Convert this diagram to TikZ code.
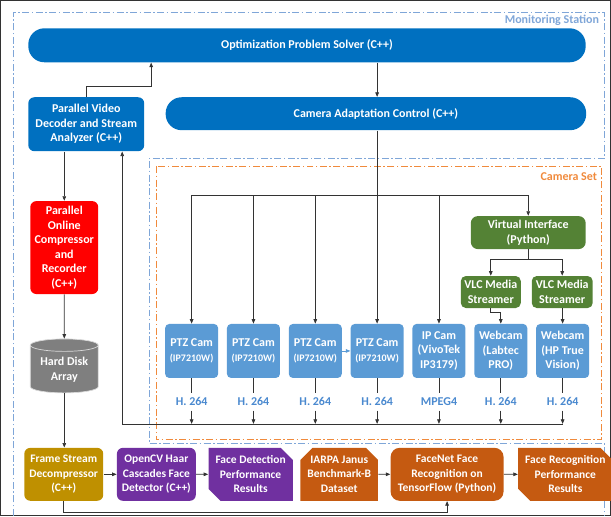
\documentclass[tikz,border=0pt]{standalone}
\usepackage{fontspec}
\setmainfont{Carlito}
\usepackage{xcolor}
\usetikzlibrary{arrows.meta,positioning,shapes.geometric,shapes.misc}

\definecolor{solverblue}{HTML}{0070C0}
\definecolor{camblue}{HTML}{5B9BD5}
\definecolor{codecblue}{HTML}{4A89CF}
\definecolor{recred}{HTML}{FF0000}
\definecolor{diskgray}{HTML}{7F7F7F}
\definecolor{decgold}{HTML}{BF9000}
\definecolor{detpurple}{HTML}{7030A0}
\definecolor{recorange}{HTML}{C55A11}
\definecolor{virtgreen}{HTML}{548235}
\definecolor{stationblue}{HTML}{7FA6D8}
\definecolor{setorange}{HTML}{F08A3C}

\begin{document}
\begin{tikzpicture}[
    x=1pt, y=-1pt,
    >={Triangle[length=4.5pt,width=3.6pt]},
    font=\fontsize{12}{14.5}\selectfont\bfseries,
    block/.style={rounded corners=6pt, text=white, align=center, inner sep=2pt},
    pill/.style={block, fill=solverblue, rounded corners=16pt, minimum height=34pt},
    cam/.style={block, fill=camblue, rounded corners=4pt, minimum width=53pt, minimum height=54pt, inner sep=1pt},
    virt/.style={block, fill=virtgreen, rounded corners=7pt},
    stage/.style={block, minimum width=79pt, minimum height=53pt, inner sep=1pt,
        font=\fontsize{11.5}{14.5}\selectfont\bfseries},
    result/.style={chamfered rectangle, chamfered rectangle xsep=6pt, chamfered rectangle ysep=6pt,
        text=white, align=center, inner sep=1pt, minimum height=53pt,
        font=\fontsize{11.5}{14.5}\selectfont\bfseries},
    disk/.style={cylinder, shape border rotate=90, aspect=0.25, fill=diskgray, draw=white!70!diskgray,
        text=white, align=center, minimum width=68pt, minimum height=54pt, inner sep=1pt},
    codec/.style={text=codecblue, inner xsep=1pt, inner ysep=5pt, text height=7.5pt, text depth=0pt},
    stationline/.style={draw=stationblue, line width=1.1pt, dash pattern=on 7pt off 2.5pt on 1.5pt off 2.5pt},
    setline/.style={draw=setorange, line width=1.1pt, dash pattern=on 7pt off 2.5pt on 1.5pt off 2.5pt},
    every path/.style={line width=0.7pt, draw=black!80},
]
\useasboundingbox (0,0) rectangle (611,516);

% Monitoring station outline
\draw[stationline] (13,516) -- (13,12) -- (605,12) -- (605,158) -- (149,158) -- (149,444) -- (605,444) -- (605,516);
\node[anchor=east, text=stationblue] (stationlabel) at (603,20) {Monitoring Station};

% Camera set outline
\draw[setline] (156,166) rectangle (602,440);
\node[anchor=east, text=setorange] (setlabel) at (601,176) {Camera Set};

% Solver and control
\node[pill, minimum width=558pt] (solver) at (307,45) {Optimization Problem Solver (C++)};
\node[pill, minimum width=421pt, minimum height=33pt] (cac) at (376,113.5) {Camera Adaptation Control (C++)};
\node[block, fill=solverblue, minimum width=116pt, minimum height=54pt] (decoder) at (86,124) {Parallel Video\\Decoder and Stream\\Analyzer (C++)};

% Recording chain
\node[block, fill=recred, minimum width=68pt, minimum height=93pt] (recorder) at (64,247.5) {Parallel\\Online\\Compressor\\and\\Recorder\\(C++)};
\node[disk] (disk) at (64,370) {Hard Disk\\Array};

% Bottom row
\node[stage, fill=decgold] (framedec) at (63.5,474.5) {Frame Stream\\Decompressor\\(C++)};
\node[stage, fill=detpurple, right=13pt of framedec] (haar) {OpenCV Haar\\Cascades Face\\Detector (C++)};
\node[result, fill=detpurple, chamfered rectangle corners={north east,south west}, minimum width=80pt, right=12pt of haar] (detres) {Face Detection\\Performance\\Results};
\node[result, fill=recorange, chamfered rectangle corners={north west,north east}, minimum width=74pt, right=7pt of detres] (janus) {IARPA Janus\\Benchmark-B\\Dataset};
\node[stage, fill=recorange, rounded corners=9pt, minimum width=113pt, right=12pt of janus] (facenet) {FaceNet Face\\Recognition on\\TensorFlow (Python)};
\node[result, fill=recorange, chamfered rectangle corners={north east,south west}, minimum width=89pt, right=14pt of facenet] (recres) {Face Recognition\\Performance\\Results};

% Cameras
\node[cam] (ptz1) at (191.5,351) {PTZ Cam\\{\fontsize{10}{12}\selectfont (IP7210W)}};
\node[cam, right=8.2pt of ptz1] (ptz2) {PTZ Cam\\{\fontsize{10}{12}\selectfont (IP7210W)}};
\node[cam, right=8.2pt of ptz2] (ptz3) {PTZ Cam\\{\fontsize{10}{12}\selectfont (IP7210W)}};
\node[cam, right=8.2pt of ptz3] (ptz4) {PTZ Cam\\{\fontsize{10}{12}\selectfont (IP7210W)}};
\node[cam, right=8.2pt of ptz4] (ipcam) {IP Cam\\(VivoTek\\IP3179)};
\node[cam, right=8.2pt of ipcam] (web1) {Webcam\\(Labtec\\PRO)};
\node[cam, right=8.2pt of web1] (web2) {Webcam\\(HP True\\Vision)};

% Stream formats
\node[codec, below=14.25pt of ptz1] (fmt1) {H. 264};
\node[codec, below=14.25pt of ptz2] (fmt2) {H. 264};
\node[codec, below=14.25pt of ptz3] (fmt3) {H. 264};
\node[codec, below=14.25pt of ptz4] (fmt4) {H. 264};
\node[codec, below=14.25pt of ipcam] (fmt5) {MPEG4};
\node[codec, below=14.25pt of web1] (fmt6) {H. 264};
\node[codec, below=14.25pt of web2] (fmt7) {H. 264};

% Virtual interface
\node[virt, minimum width=115pt, minimum height=33pt] (vif) at (528.5,232.5) {Virtual Interface\\(Python)};
\node[virt, rounded corners=5pt, minimum width=60pt, minimum height=32pt, inner sep=1pt] (vlc1) at (491,292) {VLC Media\\Streamer};
\node[virt, rounded corners=5pt, minimum width=61pt, minimum height=32pt, inner sep=1pt] (vlc2) at (562.5,292) {VLC Media\\Streamer};

% Bus points
\coordinate (busT) at (375,195);
\coordinate (busB) at (122,424);

% Edges: control side
\draw[->] (decoder.north) -- ++(0,-11) -| ([xshift=-156pt]solver.south);
\draw[->] (solver.south -| ptz4) -- (cac.north -| ptz4);
\draw[->] (cac.south -| ptz4) -- (ptz4);
\draw (ptz1 |- busT) -- (vif |- busT);
\draw[->] (ptz1 |- busT) -- (ptz1);
\draw[->] (ptz2 |- busT) -- (ptz2);
\draw[->] (ptz3 |- busT) -- (ptz3);
\draw[->] (ipcam |- busT) -- (ipcam);
\draw[->] (vif |- busT) -- (vif);
\draw[->] (vif.south) -- ++(0,10) -| (vlc1);
\draw[->] (vif.south) ++(0,10) -| (vlc2);
\draw[->] (vlc1.south) -- ++(0,4) -| (web1);
\draw[->] (vlc2.south) -- ++(0,4) -| (web2);
\draw[->, draw=camblue, line width=0.5pt] (ptz3) -- (ptz4);

% Edges: streams back to the station
\draw (ptz1) -- (fmt1);
\draw (ptz2) -- (fmt2);
\draw (ptz3) -- (fmt3);
\draw (ptz4) -- (fmt4);
\draw (ipcam) -- (fmt5);
\draw (web1) -- (fmt6);
\draw (web2) -- (fmt7);
\draw[->] (fmt1) -- (fmt1 |- busB);
\draw[->] (fmt2) -- (fmt2 |- busB);
\draw[->] (fmt3) -- (fmt3 |- busB);
\draw[->] (fmt4) -- (fmt4 |- busB);
\draw[->] (fmt5) -- (fmt5 |- busB);
\draw[->] (fmt6) -- (fmt6 |- busB);
\draw[->] (fmt7) -- (fmt7 |- busB);
\draw (busB) -- (fmt7 |- busB);
\draw[->] (busB) -- (busB |- decoder.south);

% Edges: recording and analysis
\draw[->] (decoder.south -| recorder) -- (recorder);
\draw[->] (recorder) -- (disk);
\draw[->] (disk.south) -- (disk.south |- framedec.north);
\draw[->] (framedec) -- (haar);
\draw[->] (haar) -- (detres);
\draw[->] (janus) -- (facenet);
\draw[->] (facenet) -- (recres);
\draw[->] (framedec.south) -- ++(0,11) -| (facenet.south);

\end{tikzpicture}
\end{document}
